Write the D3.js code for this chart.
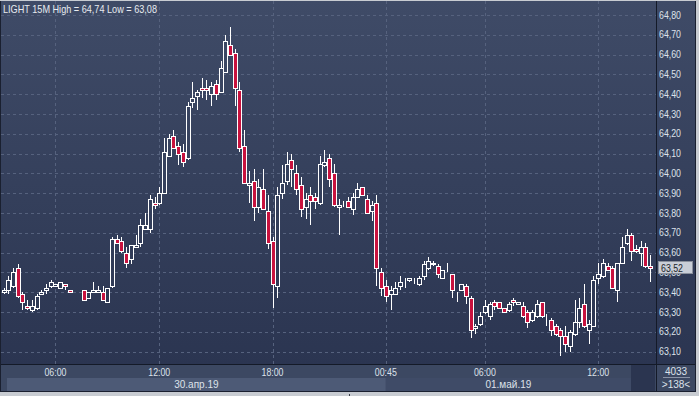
<!DOCTYPE html>
<html>
<head>
<meta charset="utf-8">
<script src="https://cdn.jsdelivr.net/npm/d3@7.9.0/dist/d3.min.js"></script>
<style>
  html, body { margin: 0; padding: 0; background: #c8ccd2; }
  svg { display: block; font-family: "Liberation Sans", Arial, sans-serif; }
</style>
</head>
<body>
<svg id="chart" width="699" height="396"></svg>
<script>
// 15 minute candles, LIGHT
const opens  = [63.40,63.41,63.43,63.52,63.39,63.33,63.31,63.32,63.39,63.41,63.43,63.43,63.42,63.44,63.41,63.41,63.42,63.41,63.37,63.40,
                63.40,63.40,63.35,63.43,63.67,63.66,63.60,63.57,63.63,63.65,63.72,63.72,63.85,63.85,63.90,64.09,64.19,64.14,64.11,64.08,
                64.36,64.39,64.43,64.43,64.40,64.45,64.41,64.51,64.65,64.61,64.42,64.14,63.94,63.96,63.83,63.92,63.81,63.66,63.43,63.90,
                63.96,64.07,64.00,63.94,63.83,63.89,63.88,63.85,64.04,64.08,64.00,63.83,63.84,63.86,63.82,63.88,63.93,63.87,63.81,63.85,
                63.50,63.43,63.39,63.39,63.43,63.45,63.46,63.46,63.44,63.48,63.52,63.55,63.53,63.47,63.50,63.49,63.40,63.41,63.43,63.37,
                63.22,63.24,63.30,63.28,63.35,63.35,63.32,63.31,63.36,63.34,63.33,63.30,63.26,63.28,63.35,63.27,63.26,63.23,63.21,63.18,
                63.13,63.19,63.25,63.34,63.21,63.23,63.47,63.48,63.53,63.52,63.41,63.55,63.65,63.69,63.62,63.60,63.63,63.53];
const highs  = [63.42,63.48,63.52,63.54,63.40,63.36,63.36,63.39,63.41,63.44,63.46,63.44,63.45,63.44,63.41,63.41,63.42,63.41,63.40,63.45,
                63.43,63.43,63.42,63.68,63.69,63.68,63.63,63.64,63.69,63.77,63.80,63.89,63.88,63.93,64.18,64.20,64.22,64.16,64.15,64.36,
                64.46,64.42,64.48,64.47,64.46,64.47,64.57,64.70,64.74,64.63,64.46,64.22,64.01,64.02,63.97,64.02,63.89,63.68,63.93,64.04,
                64.11,64.10,64.04,63.98,63.90,63.93,63.90,64.09,64.12,64.10,64.05,63.87,63.86,63.88,63.90,63.95,63.93,63.89,63.86,63.89,
                63.52,63.46,63.43,63.45,63.48,63.47,63.47,63.47,63.48,63.56,63.58,63.56,63.54,63.51,63.55,63.49,63.40,63.44,63.44,63.38,
                63.24,63.30,63.36,63.35,63.36,63.35,63.32,63.35,63.37,63.35,63.35,63.31,63.31,63.36,63.35,63.29,63.27,63.24,63.22,63.23,
                63.21,63.36,63.37,63.44,63.26,63.48,63.55,63.57,63.55,63.53,63.55,63.68,63.72,63.70,63.64,63.66,63.65,63.59];
const lows   = [63.39,63.39,63.42,63.37,63.31,63.31,63.30,63.31,63.39,63.39,63.42,63.43,63.42,63.41,63.40,63.41,63.42,63.36,63.37,63.40,
                63.40,63.36,63.35,63.42,63.65,63.60,63.52,63.54,63.63,63.63,63.72,63.70,63.82,63.84,63.90,64.09,64.13,64.04,64.03,64.07,
                64.33,64.32,64.38,64.37,64.34,64.37,64.41,64.51,64.60,64.34,64.11,63.95,63.85,63.76,63.80,63.82,63.62,63.32,63.37,63.87,
                63.94,63.93,63.89,63.78,63.77,63.74,63.82,63.84,64.03,63.93,63.83,63.69,63.83,63.83,63.79,63.88,63.89,63.80,63.76,63.43,
                63.38,63.35,63.31,63.39,63.41,63.42,63.45,63.44,63.43,63.46,63.51,63.53,63.47,63.47,63.50,63.37,63.35,63.41,63.34,63.17,
                63.19,63.23,63.29,63.26,63.31,63.32,63.30,63.30,63.33,63.34,63.27,63.22,63.25,63.27,63.27,63.23,63.18,63.18,63.08,63.10,
                63.10,63.18,63.22,63.22,63.14,63.23,63.44,63.47,63.51,63.42,63.35,63.54,63.64,63.56,63.60,63.53,63.52,63.45];
const closes = [63.41,63.46,63.50,63.38,63.35,63.32,63.33,63.38,63.40,63.42,63.45,63.44,63.45,63.43,63.40,63.41,63.42,63.36,63.40,63.41,
                63.41,63.36,63.42,63.67,63.65,63.61,63.55,63.64,63.64,63.74,63.74,63.87,63.84,63.90,64.11,64.18,64.13,64.10,64.06,64.34,
                64.38,64.41,64.42,64.42,64.44,64.40,64.53,64.67,64.60,64.43,64.13,63.95,63.95,63.83,63.93,63.82,63.65,63.44,63.89,63.95,
                64.05,64.02,63.92,63.82,63.87,63.86,63.86,64.05,64.06,63.97,63.84,63.84,63.84,63.83,63.88,63.92,63.89,63.80,63.84,63.52,
                63.42,63.38,63.41,63.42,63.45,63.45,63.47,63.46,63.47,63.54,63.56,63.54,63.49,63.51,63.50,63.41,63.40,63.44,63.38,63.21,
                63.23,63.28,63.33,63.34,63.33,63.32,63.30,63.34,63.35,63.35,63.28,63.25,63.30,63.34,63.28,63.27,63.21,63.19,63.18,63.14,
                63.20,63.25,63.32,63.23,63.24,63.46,63.49,63.55,63.51,63.42,63.55,63.63,63.69,63.61,63.61,63.63,63.53,63.52];

const priceTicks = [63.10,63.20,63.30,63.40,63.50,63.60,63.70,63.80,63.90,64.00,64.10,64.20,64.30,64.40,64.50,64.60,64.70,64.80];
const timeTickIdx    = [11, 33, 57, 81, 102, 126];
const timeTickLabels = ['06:00', '12:00', '18:00', '00:45', '06:00', '12:00'];
const dateLabels = ['30.апр.19', '01.май.19'];
const dateStartIdx = [0, 81];
const lastPrice = 63.52;
const titleText = 'LIGHT 15M High = 64,74 Low = 63,08';

const W = 699, H = 396;
const plot = { x0: 1, x1: 656, y0: 1, y1: 364 };
const svg = d3.select('#chart');

const fmt = v => d3.format('.2f')(v).replace('.', ',');

const x = d3.scaleLinear().domain([0, opens.length - 1]).range([3.5, 650.1]);
const y = d3.scaleLinear().domain([63.10, 64.80]).range([351.6, 15]);

// gradients
const defs = svg.append('defs');
const g1 = defs.append('linearGradient').attr('id', 'bg')
  .attr('gradientUnits', 'userSpaceOnUse')
  .attr('x1', 0).attr('y1', 0).attr('x2', 0).attr('y2', 364);
g1.append('stop').attr('offset', 0).attr('stop-color', '#3f4b67');
g1.append('stop').attr('offset', 1).attr('stop-color', '#2b3551');

// outer frame
svg.append('rect').attr('width', W).attr('height', H).attr('fill', '#c8ccd2');
svg.append('rect').attr('x', 0).attr('y', 1).attr('width', 696).attr('height', 391).attr('fill', '#1a2030');
svg.append('line').attr('x1', 349.5).attr('x2', 349.5).attr('y1', 394).attr('y2', 396).attr('stroke', '#3a3f48');

// plot + right axis bg
svg.append('rect').attr('x', plot.x0).attr('y', plot.y0)
  .attr('width', plot.x1 - plot.x0).attr('height', plot.y1 - plot.y0).attr('fill', 'url(#bg)');
svg.append('rect').attr('x', 657).attr('y', 1).attr('width', 38).attr('height', 363).attr('fill', 'url(#bg)');

// bottom panel
svg.append('rect').attr('x', 1).attr('y', 365).attr('width', 655).attr('height', 26).attr('fill', '#3c4862');
svg.append('rect').attr('x', 657).attr('y', 365).attr('width', 38).attr('height', 26).attr('fill', '#3c4862');

// grid
const grid = svg.append('g').attr('stroke', '#56627e').attr('stroke-dasharray', '3,3').attr('stroke-width', 1);
grid.selectAll('line.h').data(priceTicks).join('line')
  .attr('x1', plot.x0).attr('x2', plot.x1)
  .attr('y1', d => Math.round(y(d)) + 0.5).attr('y2', d => Math.round(y(d)) + 0.5);
grid.selectAll('line.v').data(timeTickIdx).join('line')
  .attr('y1', plot.y0).attr('y2', plot.y1)
  .attr('x1', d => Math.round(x(d)) + 0.5).attr('x2', d => Math.round(x(d)) + 0.5);

// title
svg.append('text').attr('x', 3).attr('y', 13).attr('fill', '#e8ebf0')
  .attr('font-size', 10.5).attr('textLength', 154).attr('lengthAdjust', 'spacingAndGlyphs')
  .text(titleText);

// candles
const candles = svg.append('g');
d3.range(opens.length).forEach(i => {
  const cx = Math.round(x(i)) + 0.5;
  const o = opens[i], c = closes[i];
  candles.append('line')
    .attr('x1', cx).attr('x2', cx)
    .attr('y1', Math.round(y(highs[i]))).attr('y2', Math.round(y(lows[i])))
    .attr('stroke', '#ffffff').attr('stroke-width', 1);
  const top = Math.round(y(Math.max(o, c))) + 0.5;
  const bot = Math.round(y(Math.min(o, c))) + 0.5;
  candles.append('rect')
    .attr('x', cx - 2).attr('y', top)
    .attr('width', 4).attr('height', Math.max(0, bot - top))
    .attr('fill', c >= o ? 'url(#bg)' : '#c8123e')
    .attr('stroke', '#ffffff').attr('stroke-width', 1);
});

// separators
svg.append('line').attr('x1', 656.5).attr('x2', 656.5).attr('y1', 1).attr('y2', 391).attr('stroke', '#141a28');
svg.append('line').attr('x1', 1).attr('x2', 695).attr('y1', 364.5).attr('y2', 364.5).attr('stroke', '#141a28');

// right price axis
const yAxis = svg.append('g').attr('font-size', 10).attr('fill', '#dde2ea');
yAxis.selectAll('text').data(priceTicks).join('text')
  .attr('x', 659).attr('y', d => y(d) + 3.5)
  .attr('textLength', 22).attr('lengthAdjust', 'spacingAndGlyphs')
  .text(d => fmt(d));

// last price marker (covers the 63,50 label as in the terminal)
const ly = Math.round(y(lastPrice));
svg.append('rect').attr('x', 658.5).attr('y', ly - 6.5).attr('width', 34).attr('height', 12)
  .attr('fill', '#c9ced7').attr('stroke', '#8a909c');
svg.append('text').attr('x', 661).attr('y', ly + 3.5).attr('font-size', 10).attr('fill', '#1a1f2a')
  .attr('textLength', 22).attr('lengthAdjust', 'spacingAndGlyphs').text(fmt(lastPrice));

// time axis
const xAxis = svg.append('g').attr('font-size', 10).attr('fill', '#dde2ea').attr('text-anchor', 'middle');
xAxis.selectAll('text').data(timeTickIdx).join('text')
  .attr('x', d => x(d)).attr('y', 376)
  .attr('textLength', 22).attr('lengthAdjust', 'spacingAndGlyphs')
  .text((d, k) => timeTickLabels[k]);

// date band
const bandX = [7, x(dateStartIdx[1]), 631];
svg.append('rect').attr('x', bandX[0]).attr('y', 378).attr('width', bandX[1] - bandX[0]).attr('height', 13).attr('fill', '#4d5a76');
svg.append('rect').attr('x', bandX[1]).attr('y', 378).attr('width', bandX[2] - bandX[1]).attr('height', 13).attr('fill', '#3f4b67');
svg.append('rect').attr('x', 631).attr('y', 365).attr('width', 24).attr('height', 26).attr('fill', '#2b3550');
dateLabels.forEach((lab, k) => {
  svg.append('text').attr('x', (bandX[k] + bandX[k + 1]) / 2).attr('y', 388)
    .attr('text-anchor', 'middle').attr('font-size', 10).attr('fill', '#dde2ea')
    .text(lab);
});

// bar counters
svg.append('text').attr('x', 676).attr('y', 375).attr('text-anchor', 'middle')
  .attr('font-size', 10).attr('fill', '#dde2ea').text('4033');
svg.append('line').attr('x1', 663).attr('x2', 690).attr('y1', 377.5).attr('y2', 377.5).attr('stroke', '#8a93a6');
svg.append('text').attr('x', 676).attr('y', 388).attr('text-anchor', 'middle')
  .attr('font-size', 10).attr('fill', '#dde2ea').text('>138<');
</script>
</body>
</html>
